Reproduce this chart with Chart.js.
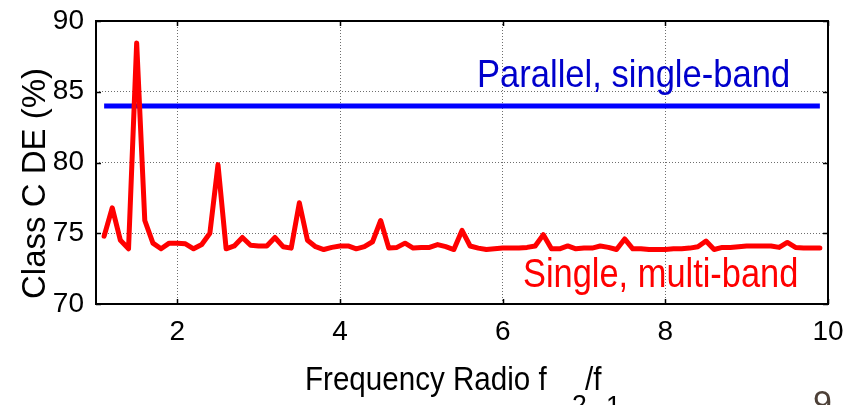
<!DOCTYPE html>
<html>
<head>
<meta charset="utf-8">
<script src="https://cdn.jsdelivr.net/npm/chart.js@4.4.1/dist/chart.umd.min.js"></script>
<style>
html,body{margin:0;padding:0;background:#fff;}
#wrap{width:850px;height:405px;position:relative;}
</style>
</head>
<body>
<div id="wrap"><canvas id="c" width="850" height="405"></canvas></div>
<script>
// ---- data ----
const ratioX = [1.1,1.2,1.3,1.4,1.5,1.6,1.7,1.8,1.9,2.0,
  2.1,2.2,2.3,2.4,2.5,2.6,2.7,2.8,2.9,3.0,
  3.1,3.2,3.3,3.4,3.5,3.6,3.7,3.8,3.9,4.0,
  4.1,4.2,4.3,4.4,4.5,4.6,4.7,4.8,4.9,5.0,
  5.1,5.2,5.3,5.4,5.5,5.6,5.7,5.8,5.9,6.0,
  6.1,6.2,6.3,6.4,6.5,6.6,6.7,6.8,6.9,7.0,
  7.1,7.2,7.3,7.4,7.5,7.6,7.7,7.8,7.9,8.0,
  8.1,8.2,8.3,8.4,8.5,8.6,8.7,8.8,8.9,9.0,
  9.1,9.2,9.3,9.4,9.5,9.6,9.7,9.8,9.9];
const singleMultiBand = [74.8,76.8,74.5,73.9,88.45,75.9,74.3,73.9,74.3,74.3,
  74.25,73.9,74.2,75.0,79.85,73.9,74.1,74.7,74.15,74.1,
  74.1,74.7,74.05,73.95,77.15,74.5,74.05,73.85,74.0,74.1,
  74.1,73.9,74.05,74.4,75.9,73.95,74.0,74.3,73.95,74.0,
  74.0,74.2,74.05,73.85,75.2,74.1,73.95,73.85,73.9,73.95,
  73.95,73.95,74.0,74.1,74.9,73.9,73.9,74.1,73.9,73.95,
  73.95,74.1,74.0,73.85,74.6,73.9,73.9,73.85,73.85,73.85,
  73.9,73.9,73.95,74.05,74.45,73.85,74.0,74.0,74.05,74.1,
  74.1,74.1,74.1,74.0,74.35,74.0,73.95,73.95,73.95];
const parallelX = [1.1, 9.9];
const parallelSingleBand = [84, 84];
const xTickValues = [2,4,6,8,10];
const yTickValues = [70,75,80,85,90];
const seriesLabels = ['Single, multi-band','Parallel, single-band'];

const FONT = '"Liberation Sans", Arial, sans-serif';

function condensedText(ctx, text, x, y, size, sx, color){
  ctx.save();
  ctx.font = size + 'px ' + FONT;
  ctx.fillStyle = color;
  ctx.textAlign = 'left';
  ctx.textBaseline = 'alphabetic';
  ctx.translate(x, y);
  ctx.scale(sx, 1);
  ctx.fillText(text, 0, 0);
  ctx.restore();
}

const decorPlugin = {
  id: 'decor',
  beforeDatasetsDraw(chart){
    const {ctx, chartArea: a} = chart;
    const xs = chart.scales.x, ys = chart.scales.y;
    ctx.save();
    ctx.strokeStyle = '#000';
    ctx.lineWidth = 1.5;
    ctx.beginPath();
    xTickValues.forEach(v => {
      const px = Math.round(xs.getPixelForValue(v)) + 0.5;
      ctx.moveTo(px, a.bottom); ctx.lineTo(px, a.bottom - 5);
      ctx.moveTo(px, a.top); ctx.lineTo(px, a.top + 5);
    });
    yTickValues.forEach(v => {
      const py = Math.round(ys.getPixelForValue(v)) + 0.5;
      ctx.moveTo(a.left, py); ctx.lineTo(a.left + 5, py);
      ctx.moveTo(a.right, py); ctx.lineTo(a.right - 5, py);
    });
    ctx.stroke();
    ctx.restore();
  },
  afterDatasetsDraw(chart){
    const {ctx, chartArea: a} = chart;
    ctx.save();
    ctx.strokeStyle = '#000';
    ctx.lineWidth = 2;
    ctx.strokeRect(a.left, a.top, a.right - a.left, a.bottom - a.top);
    ctx.restore();
  },
  afterDraw(chart){
    const ctx = chart.ctx;
    condensedText(ctx, seriesLabels[1], 477, 87, 39.5, 0.875, '#0000cc');
    condensedText(ctx, seriesLabels[0], 523, 287, 40, 0.86, '#ff0000');
    condensedText(ctx, 'Frequency Radio f', 305, 390, 32.5, 0.91, '#000');
    condensedText(ctx, '2', 572, 414, 28, 0.95, '#000');
    condensedText(ctx, '/f', 585, 390, 32.5, 0.91, '#000');
    condensedText(ctx, '1', 606, 415, 28, 0.95, '#000');
    ctx.save();
    ctx.font = '33px ' + FONT;
    ctx.fillStyle = '#000';
    ctx.textAlign = 'left';
    ctx.textBaseline = 'alphabetic';
    ctx.translate(45, 299);
    ctx.rotate(-Math.PI / 2);
    ctx.fillText('Class C DE (%)', 0, 0);
    ctx.restore();
    condensedText(ctx, '9', 813, 414, 34, 1, '#4d4037');
  }
};

new Chart(document.getElementById('c'), {
  type: 'line',
  data: {
    datasets: [
      {
        label: seriesLabels[0],
        data: ratioX.map((x, i) => ({x: x, y: singleMultiBand[i]})),
        borderColor: '#ff0000',
        borderWidth: 5,
        borderJoinStyle: 'round',
        borderCapStyle: 'round',
        pointRadius: 0,
        tension: 0,
        fill: false
      },
      {
        label: seriesLabels[1],
        data: parallelX.map((x, i) => ({x: x, y: parallelSingleBand[i]})),
        borderColor: '#0000ff',
        borderWidth: 5,
        pointRadius: 0,
        tension: 0,
        fill: false,
        borderCapStyle: 'butt'
      }
    ]
  },
  options: {
    responsive: false,
    animation: false,
    devicePixelRatio: 1,
    layout: {padding: {left: 0, top: 21, right: 22, bottom: 0}},
    plugins: {legend: {display: false}, tooltip: {enabled: false}},
    scales: {
      x: {
        type: 'linear',
        min: 1, max: 10,
        afterBuildTicks: s => { s.ticks = xTickValues.map(v => ({value: v})); },
        afterFit: s => { s.height = 101; s.paddingLeft = 0; s.paddingRight = 0; },
        grid: {color: '#6e6e6e', lineWidth: 1, drawTicks: false},
        border: {display: false, dash: [1,2]},
        ticks: {color: '#000', padding: 11, font: {family: FONT, size: 28}, maxRotation: 0, autoSkip: false}
      },
      y: {
        type: 'linear',
        min: 70, max: 90,
        afterBuildTicks: s => { s.ticks = yTickValues.map(v => ({value: v})); },
        afterFit: s => { s.width = 96; s.paddingTop = 0; s.paddingBottom = 0; },
        grid: {color: '#6e6e6e', lineWidth: 1, drawTicks: false},
        border: {display: false, dash: [1,2]},
        ticks: {color: '#000', padding: 12, font: {family: FONT, size: 28}, autoSkip: false}
      }
    }
  },
  plugins: [decorPlugin]
});
</script>
</body>
</html>
